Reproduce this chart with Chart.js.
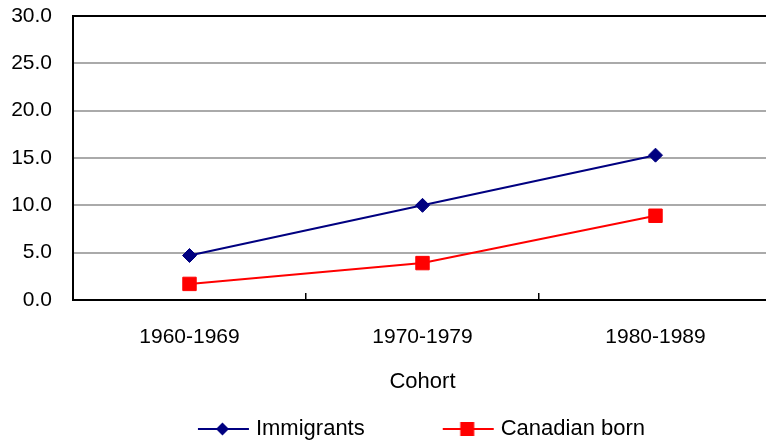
<!DOCTYPE html>
<html>
<head>
<meta charset="utf-8">
<script src="https://cdn.jsdelivr.net/npm/chart.js@4/dist/chart.umd.min.js"></script>
<style>
html,body{margin:0;padding:0;overflow:hidden;background:#fff;}
#wrap{width:800px;height:445px;}
</style>
</head>
<body>
<div id="wrap"><canvas id="c" width="800" height="445"></canvas></div>
<script>
const categories = ['1960-1969', '1970-1979', '1980-1989'];
const immigrants = [4.7, 10.0, 15.3];
const canadianBorn = [1.7, 3.9, 8.9];
const seriesNames = ['Immigrants', 'Canadian born'];
const axisTitle = 'Cohort';
const yMin = 0, yMax = 30, yStep = 5;

const NAVY = '#000080', RED = '#ff0000';
const FONT = 'Liberation Sans, Arial, sans-serif';

function legendIcon(color, shape) {
  const c = document.createElement('canvas');
  c.width = 128; c.height = 18;
  const g = c.getContext('2d');
  g.strokeStyle = color; g.lineWidth = 2;
  g.beginPath(); g.moveTo(76, 9); g.lineTo(127, 9); g.stroke();
  g.fillStyle = color;
  g.beginPath();
  const mx = 100.5;
  if (shape === 'diamond') {
    g.moveTo(mx, 2.5); g.lineTo(mx + 6.5, 9); g.lineTo(mx, 15.5); g.lineTo(mx - 6.5, 9); g.closePath();
  } else {
    g.rect(mx - 7, 2, 14, 14);
  }
  g.fill();
  return c;
}
const icons = [legendIcon(NAVY, 'diamond'), legendIcon(RED, 'square')];

new Chart(document.getElementById('c'), {
  type: 'line',
  data: {
    labels: categories,
    datasets: [
      { label: seriesNames[0], data: immigrants, borderColor: NAVY, backgroundColor: NAVY,
        borderWidth: 2, pointStyle: 'rectRot', pointRadius: 7, pointBorderWidth: 1,
        pointBackgroundColor: NAVY, pointBorderColor: NAVY, tension: 0 },
      { label: seriesNames[1], data: canadianBorn, borderColor: RED, backgroundColor: RED,
        borderWidth: 2, pointStyle: 'rect', pointRadius: 9.5, pointBorderWidth: 1,
        pointBackgroundColor: RED, pointBorderColor: RED, tension: 0 }
    ]
  },
  options: {
    responsive: false,
    animation: false,
    layout: { padding: { top: 16, right: 28, left: 0, bottom: 0 } },
    plugins: {
      tooltip: { enabled: false },
      legend: {
        position: 'bottom',
        maxHeight: 34,
        labels: {
          usePointStyle: true,
          pointStyleWidth: 118,
          padding: 7,
          color: '#000',
          font: { family: FONT, size: 22 },
          generateLabels: (chart) => chart.data.datasets.map((d, i) => ({
            text: d.label, pointStyle: icons[i], datasetIndex: i,
            fillStyle: d.borderColor, strokeStyle: d.borderColor, lineWidth: 0, hidden: false, fontColor: '#000'
          }))
        }
      }
    },
    scales: {
      x: {
        offset: true,
        afterFit: (s) => { s.height = 111; },
        grid: { offset: true, drawOnChartArea: false, drawTicks: true, tickLength: -7, color: '#000', lineWidth: 1.5 },
        border: { color: '#000', width: 2 },
        ticks: { padding: 32, color: '#000', font: { family: FONT, size: 21 } },
        title: { display: true, text: axisTitle, color: '#000', font: { family: FONT, size: 22 }, padding: { top: 4, bottom: 16 } }
      },
      y: {
        min: yMin, max: yMax,
        afterFit: (s) => { s.width = 73; s.paddingTop = 0; },
        grid: {
          drawTicks: false, tickLength: 0,
          color: (ctx) => ctx.tick && ctx.tick.value === yMax ? '#000' : '#aaaaaa',
          lineWidth: 2
        },
        border: { color: '#000', width: 2 },
        ticks: { stepSize: yStep, padding: 21, color: '#000', font: { family: FONT, size: 21 },
                 callback: (v) => Number(v).toFixed(1) }
      }
    }
  }
});
</script>
</body>
</html>
